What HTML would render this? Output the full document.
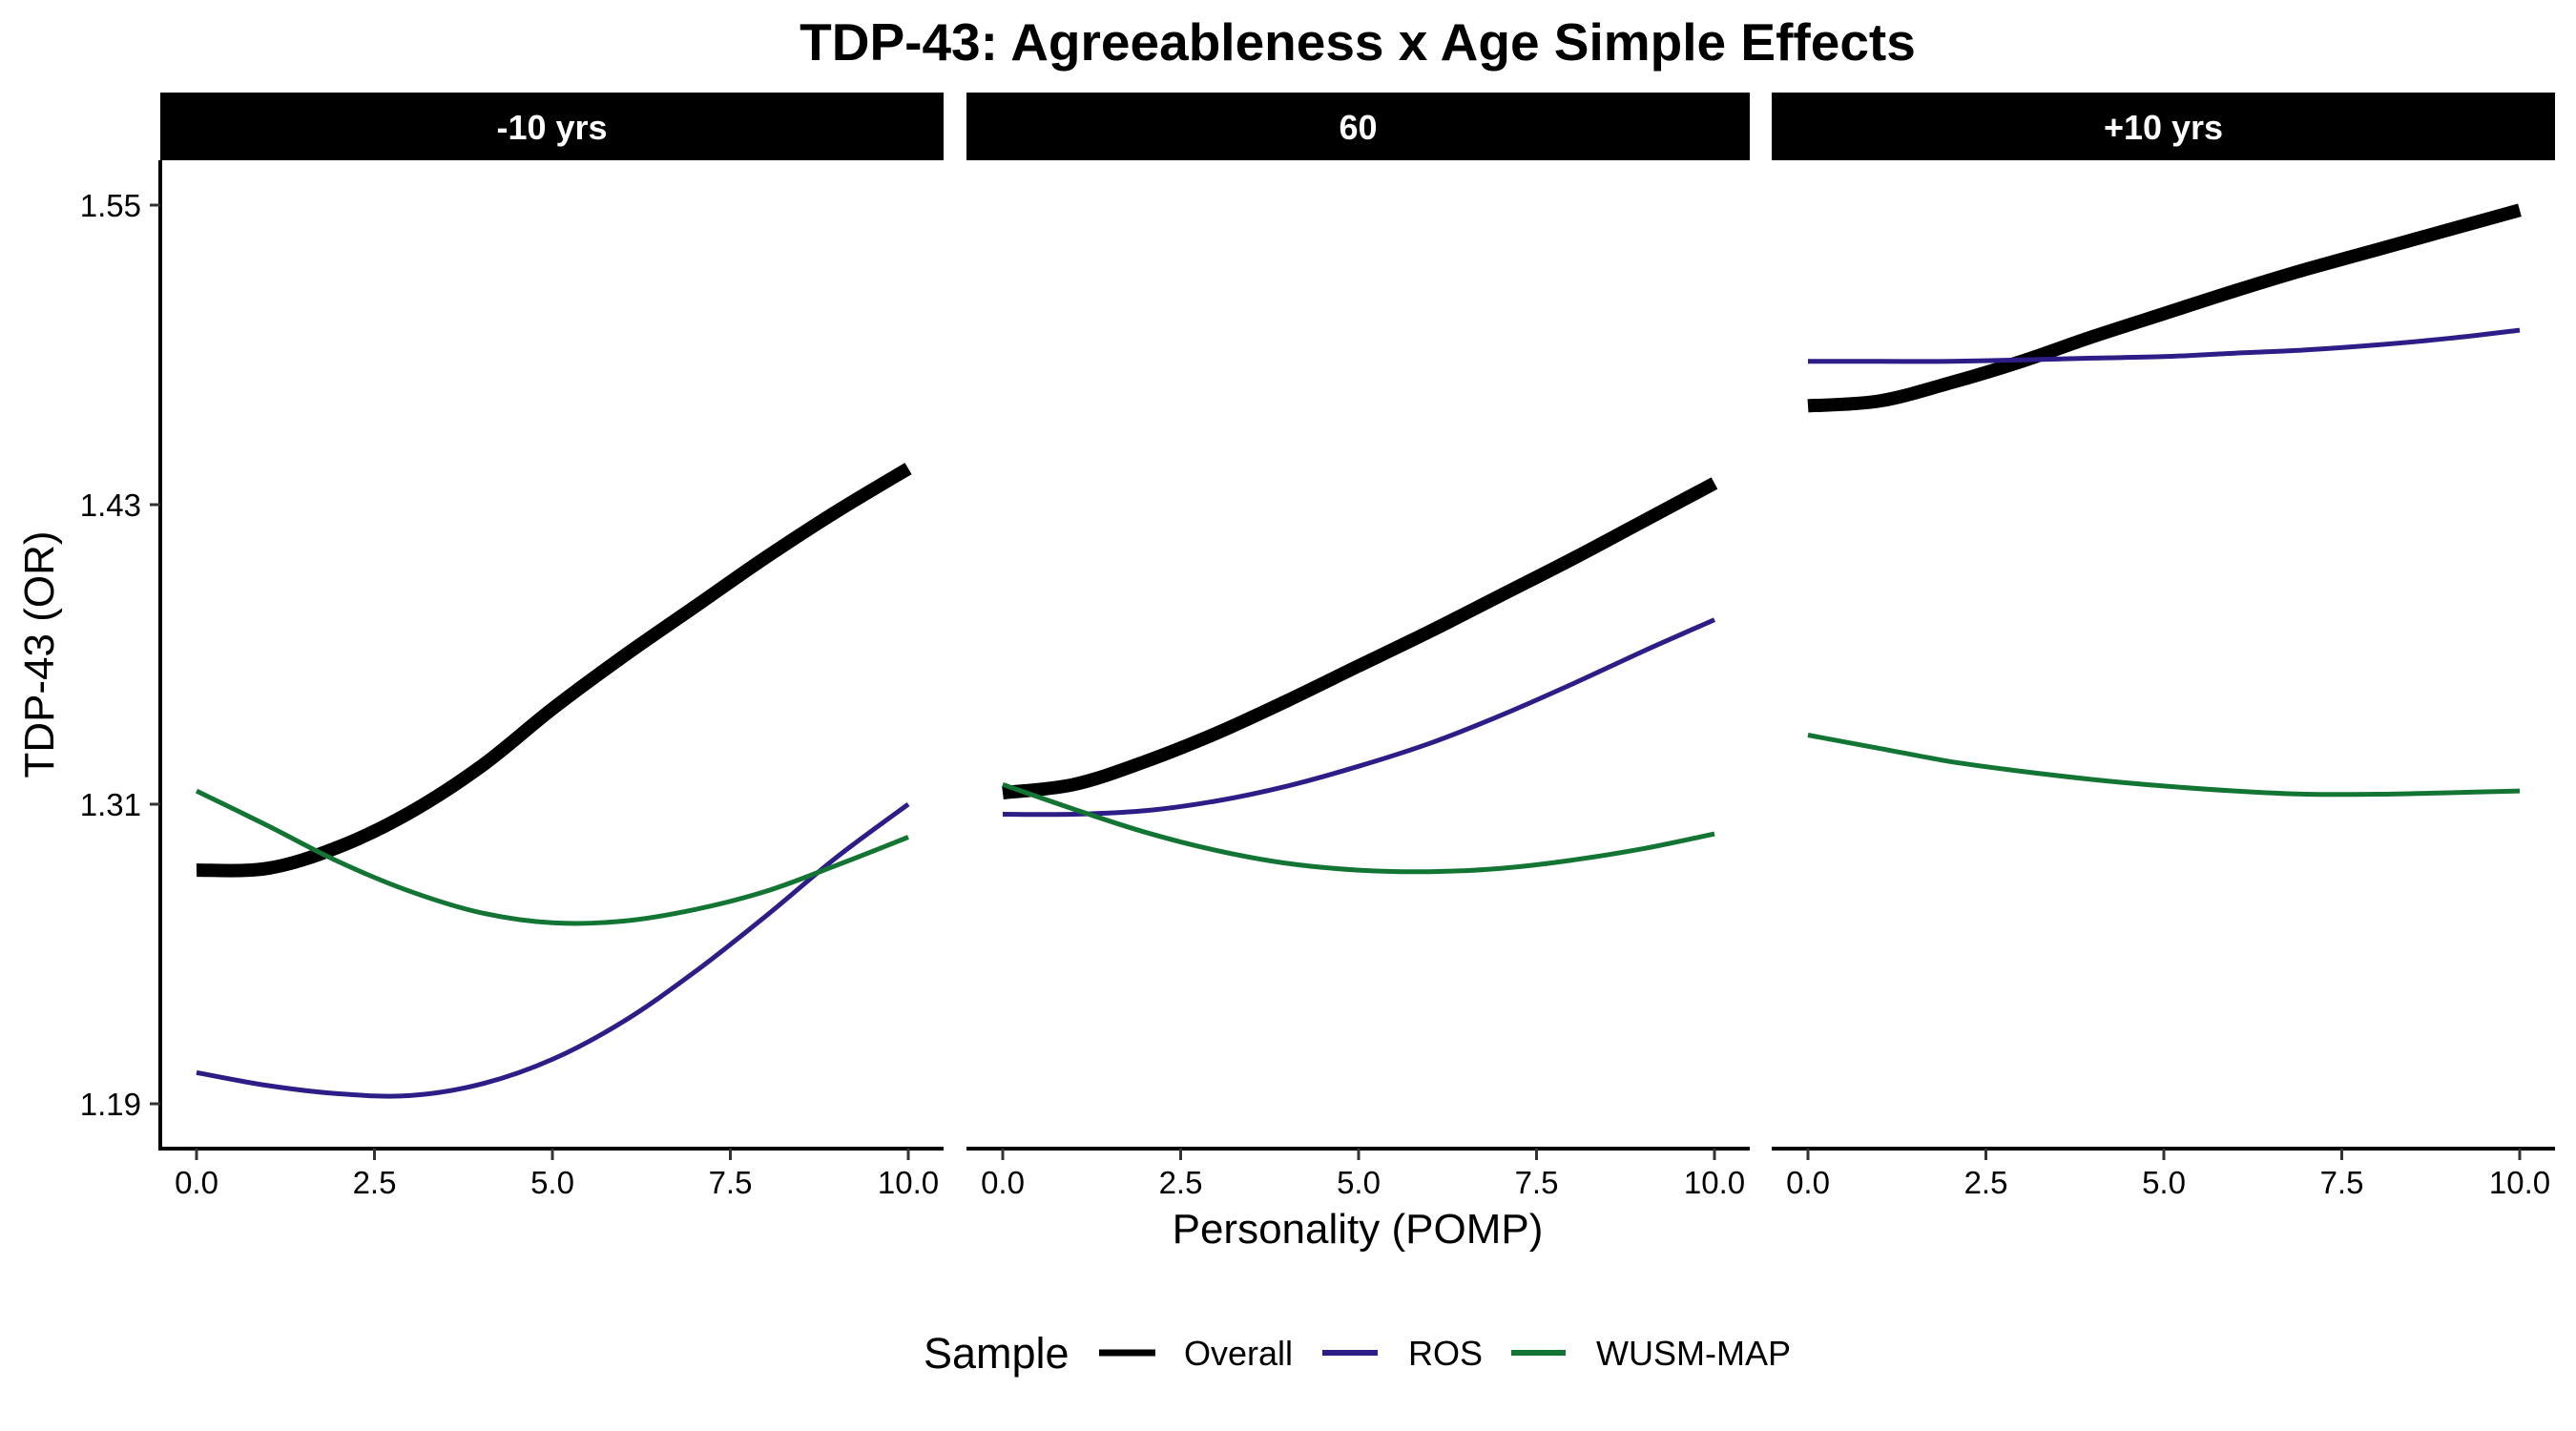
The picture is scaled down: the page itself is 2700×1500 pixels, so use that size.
<!DOCTYPE html>
<html><head><meta charset="utf-8"><style>
html,body{margin:0;padding:0;background:#fff;}
svg{display:block;font-family:"Liberation Sans",Arial,sans-serif;}
</style></head><body>
<svg id="chart" width="2700" height="1500" viewBox="0 0 2700 1500" xmlns="http://www.w3.org/2000/svg">
<text x="1423" y="63" font-size="55" font-weight="bold" text-anchor="middle">TDP-43: Agreeableness x Age Simple Effects</text>
<text x="1423" y="1303" font-size="44" text-anchor="middle">Personality (POMP)</text>
<text x="0" y="0" font-size="44" text-anchor="middle" transform="translate(56,686) rotate(-90)">TDP-43 (OR)</text>
<g id="panels"></g>
<g>
<text x="968" y="1434" font-size="45">Sample</text>
<line x1="1152" x2="1211" y1="1418" y2="1418" stroke="#000" stroke-width="7"/>
<text x="1241" y="1431" font-size="36">Overall</text>
<line x1="1386" x2="1444" y1="1418" y2="1418" stroke="#2D1E87" stroke-width="6"/>
<text x="1476" y="1431" font-size="36">ROS</text>
<line x1="1584" x2="1641" y1="1418" y2="1418" stroke="#137534" stroke-width="6"/>
<text x="1673" y="1431" font-size="36">WUSM-MAP</text>
</g>
</svg>
<script>
const panelLabels = ["-10 yrs", "60", "+10 yrs"];
const xValues = [0,1,2,3,4,5,6,7,8,9,10];
const xTicks = [0, 2.5, 5, 7.5, 10];
const xTickLabels = ["0.0","2.5","5.0","7.5","10.0"];
const yTicks = [1.19, 1.31, 1.43, 1.55];
const yTickLabels = ["1.19","1.31","1.43","1.55"];
const overallP1 = [1.2836,1.2843,1.2929,1.3067,1.3252,1.3482,1.3693,1.3891,1.4089,1.4274,1.4445];
const rosP1 = [1.2025,1.1973,1.1940,1.1933,1.1979,1.2078,1.2230,1.2428,1.2652,1.2889,1.3100];
const wusmP1 = [1.3153,1.3014,1.2869,1.2751,1.2665,1.2625,1.2632,1.2678,1.2751,1.2856,1.2968];
const overallP2 = [1.3146,1.3179,1.3271,1.3384,1.3515,1.3654,1.3792,1.3937,1.4082,1.4234,1.4386];
const rosP2 = [1.3060,1.3060,1.3074,1.3113,1.3173,1.3252,1.3344,1.3456,1.3581,1.3713,1.3839];
const wusmP2 = [1.3179,1.3080,1.2988,1.2915,1.2863,1.2836,1.2830,1.2843,1.2876,1.2922,1.2981];
const overallP3 = [1.4696,1.4715,1.4788,1.4874,1.4973,1.5065,1.5157,1.5243,1.5322,1.5401,1.5480];
const rosP3 = [1.4874,1.4874,1.4874,1.4880,1.4887,1.4893,1.4907,1.4920,1.4940,1.4966,1.4999];
const wusmP3 = [1.3377,1.3324,1.3271,1.3232,1.3199,1.3173,1.3153,1.3140,1.3140,1.3146,1.3153];

const panelData = [[overallP1,rosP1,wusmP1],[overallP2,rosP2,wusmP2],[overallP3,rosP3,wusmP3]];
const seriesNames = ["overall","ros","wusm-map"];
const seriesColors = ["#000000","#2D1E87","#137534"];
const seriesWidths = [14,5,5];
const NS = "http://www.w3.org/2000/svg";
const panelLefts = [168,1013,1857], panelW = 821, panelTop = 168, panelBottom = 1204;
function yScale(v){ return 215 + (1.55 - v) / 0.36 * (1157 - 215); }
function xScale(p, v){ return panelLefts[p] + 38 + v / 10 * 746; }
function mk(tag, attrs, parent){
  const e = document.createElementNS(NS, tag);
  for (const k in attrs) e.setAttribute(k, attrs[k]);
  parent.appendChild(e); return e;
}
function smoothPath(pts){
  let d = "M" + pts[0][0].toFixed(1) + "," + pts[0][1].toFixed(1);
  for (let i = 0; i < pts.length - 1; i++){
    const p0 = pts[Math.max(0,i-1)], p1 = pts[i], p2 = pts[i+1], p3 = pts[Math.min(pts.length-1,i+2)];
    const c1x = p1[0] + (p2[0]-p0[0])/6, c1y = p1[1] + (p2[1]-p0[1])/6;
    const c2x = p2[0] - (p3[0]-p1[0])/6, c2y = p2[1] - (p3[1]-p1[1])/6;
    d += " C" + c1x.toFixed(1)+","+c1y.toFixed(1)+" "+c2x.toFixed(1)+","+c2y.toFixed(1)+" "+p2[0].toFixed(1)+","+p2[1].toFixed(1);
  }
  return d;
}
const root = document.getElementById("panels");
panelLabels.forEach((lab, p) => {
  const L = panelLefts[p];
  const g = mk("g", {}, root);
  
  
  const strip = mk("rect", {x:L, y:97, width:panelW, height:71, fill:"#000"}, g);
  
  
  const st = mk("text", {x:L+panelW/2, y:146, "font-size":36, "font-weight":"bold", fill:"#fff", "text-anchor":"middle"}, g);
  
  
  st.textContent = lab;
  panelData[p].forEach((vals, s) => {
    const pts = vals.map((v,i) => [xScale(p, xValues[i]), yScale(v)]);
    const path = mk("path", {d:smoothPath(pts), fill:"none", stroke:seriesColors[s], "stroke-width":seriesWidths[s]}, g);
    
    
  });
  const xa = mk("line", {x1:L, x2:L+panelW, y1:panelBottom, y2:panelBottom, stroke:"#000", "stroke-width":4}, g);
  
  
  xTicks.forEach((t, i) => {
    const x = xScale(p, t);
    const tk = mk("line", {x1:x, x2:x, y1:panelBottom, y2:panelBottom+12, stroke:"#333", "stroke-width":3}, g);
    
    
    const tl = mk("text", {x:x, y:1251, "font-size":33, "text-anchor":"middle", fill:"#000"}, g);
    
    
    tl.textContent = xTickLabels[i];
  });
  if (p === 0){
    const ya = mk("line", {x1:L, x2:L, y1:panelTop, y2:panelBottom+2, stroke:"#000", "stroke-width":4}, g);
    
    
    yTicks.forEach((t, i) => {
      const y = yScale(t);
      const tk = mk("line", {x1:L-11, x2:L, y1:y, y2:y, stroke:"#333", "stroke-width":3}, g);
      
      
      const tl = mk("text", {x:L-20, y:y+12, "font-size":33, "text-anchor":"end", fill:"#000"}, g);
      
      
      tl.textContent = yTickLabels[i];
    });
  }
});
</script>
</body></html>
